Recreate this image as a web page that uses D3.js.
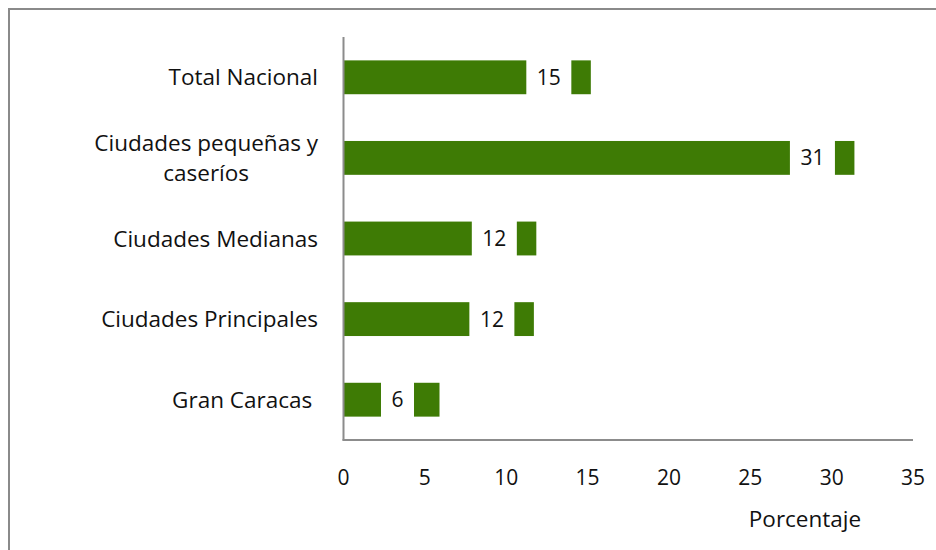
<!DOCTYPE html>
<html>
<head>
<meta charset="utf-8">
<script src="https://cdn.jsdelivr.net/npm/d3@7"></script>
<style>
  body { margin: 0; background: #fff; }
  text { font-family: "Open Sans", Lato, sans-serif; fill: #111; }
</style>
</head>
<body>
<div id="chart"></div>
<script>
// data
const categories = ["Total Nacional", "Ciudades pequeñas y|caseríos", "Ciudades Medianas", "Ciudades Principales", "Gran Caracas "];
const values = [15.2, 31.4, 11.85, 11.7, 5.9];
const valueLabels = ["15", "31", "12", "12", "6"];
const xTicks = [0, 5, 10, 15, 20, 25, 30, 35];
const axisTitle = "Porcentaje";

const width = 936, height = 550;
const barColor = "#3e7b05";
const numSize = 21;   // numbers
const textSize = 22.5; // words

let svg = d3.select("#chart").append("svg")
    .attr("width", width)
    .attr("height", height);

// outer chart frame (only top and left edges are visible in the shot)
svg.append("path")
    .attr("d", "M9,550 V9 H936")
    .attr("fill", "none")
    .attr("stroke", "#8a8a8a")
    .attr("stroke-width", 2);

let x = d3.scaleLinear().domain([0, 35]).range([343.5, 913]);
let y = d3.scaleBand().domain(categories).range([37, 440])
    .paddingInner(0.58).paddingOuter(0.29);

// bars
svg.append("g").selectAll("rect")
    .data(values)
    .enter()
    .append("rect")
    .attr("x", x(0))
    .attr("y", (d, i) => y(categories[i]))
    .attr("width", d => x(d) - x(0))
    .attr("height", y.bandwidth())
    .attr("fill", barColor);

// value labels sit on a white box inside the bar end
let lab = svg.append("g").selectAll("g")
    .data(values)
    .enter()
    .append("g")
    .attr("transform", (d, i) => "translate(" + (x(d) - 42) + "," + (y(categories[i]) + y.bandwidth() / 2) + ")");

lab.append("text")
    .attr("text-anchor", "middle")
    .attr("dy", "0.36em")
    .style("font-size", numSize + "px")
    .text((d, i) => valueLabels[i]);

lab.insert("rect", "text")
    .attr("fill", "#fff")
    .each(function () {
        let w = this.parentNode.querySelector("text").getComputedTextLength() + 21;
        d3.select(this)
            .attr("x", -w / 2)
            .attr("y", -y.bandwidth() / 2 - 1)
            .attr("width", w)
            .attr("height", y.bandwidth() + 2);
    });

// axes lines
svg.append("line")
    .attr("x1", x(0)).attr("x2", x(0))
    .attr("y1", 37).attr("y2", 440.5)
    .attr("stroke", "#8c8c8c").attr("stroke-width", 2);
svg.append("line")
    .attr("x1", x(0) - 1).attr("x2", x(35))
    .attr("y1", 440).attr("y2", 440)
    .attr("stroke", "#8c8c8c").attr("stroke-width", 2);

// x tick labels
svg.append("g").selectAll("text")
    .data(xTicks)
    .enter()
    .append("text")
    .attr("x", d => x(d))
    .attr("y", 485)
    .attr("text-anchor", "middle")
    .style("font-size", numSize + "px")
    .text(d => d);

svg.append("text")
    .attr("x", 805)
    .attr("y", 527)
    .attr("text-anchor", "middle")
    .style("font-size", textSize + "px")
    .text(axisTitle);

// category labels, wrapped ones are centred as a block right-aligned to the axis
let labelRight = 318;
categories.forEach(function (c) {
    let lines = c.split("|");
    let cy = y(c) + y.bandwidth() / 2;
    let g = svg.append("g");
    let texts = lines.map(function (l, j) {
        return g.append("text")
            .attr("y", cy + (j - (lines.length - 1) / 2) * 30)
            .attr("dy", "0.36em")
            .style("font-size", textSize + "px")
            .style("white-space", "pre")
            .text(l);
    });
    if (lines.length === 1) {
        texts[0].attr("x", labelRight).attr("text-anchor", "end");
    } else {
        let maxW = d3.max(texts, t => t.node().getComputedTextLength());
        texts.forEach(t => t.attr("x", labelRight - maxW / 2).attr("text-anchor", "middle"));
    }
});
</script>
</body>
</html>
